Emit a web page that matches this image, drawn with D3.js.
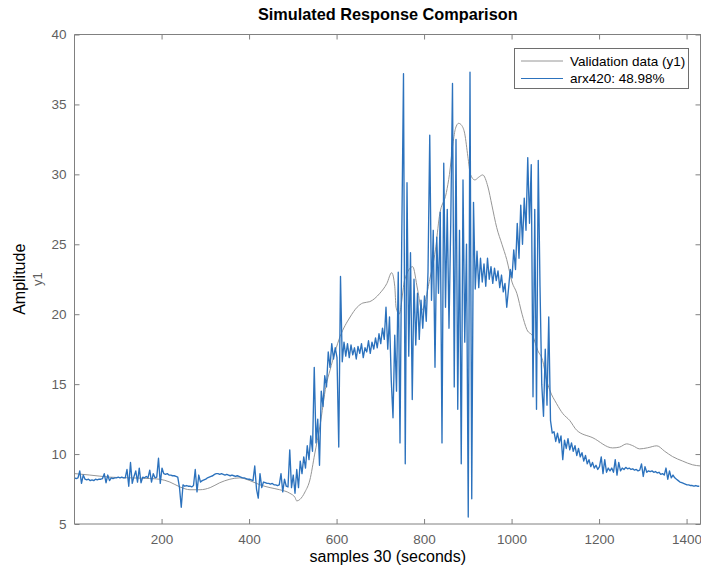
<!DOCTYPE html>
<html>
<head>
<meta charset="utf-8">
<script src="https://cdn.jsdelivr.net/npm/d3@7/dist/d3.min.js"></script>
<style>
  html, body { margin: 0; padding: 0; background: #fff; }
  svg { display: block; font-family: "Liberation Sans", Arial, Helvetica, sans-serif; }
</style>
</head>
<body>
<svg id="chart" width="701" height="570"></svg>
<script>
// ---------------- data ----------------
const titleText = "Simulated Response Comparison";
const xLabel = "samples 30 (seconds)";
const yLabel = "Amplitude";
const yLabelSub = "y1";
const seriesNames = ["Validation data (y1)", "arx420: 48.98%"];
const xTicks = [200, 400, 600, 800, 1000, 1200, 1400];
const yTicks = [5, 10, 15, 20, 25, 30, 35, 40];
const xDomain = [1, 1433];
const yDomain = [5, 40];

// Validation data (smooth grey trace), read at irregular sample positions
const validationSample = [2, 36, 82, 128, 173, 196, 219, 242, 265, 288, 311, 333, 356, 379, 402, 425, 448, 470, 493, 505, 509, 516, 528, 539, 550, 562, 576, 585, 608, 631, 647, 660, 676, 699, 715, 726, 733, 736, 743, 756, 774, 785, 795, 813, 826, 835, 851, 858, 866, 872, 879, 886, 893, 900, 906, 916, 925, 934, 946, 955, 966, 978, 989, 1001, 1012, 1024, 1035, 1049, 1060, 1071, 1080, 1087, 1103, 1117, 1133, 1149, 1186, 1231, 1247, 1263, 1277, 1293, 1311, 1332, 1350, 1368, 1391, 1414, 1432];
const validationValue = [8.6, 8.5, 8.35, 8.3, 8.25, 8.2, 8.0, 7.65, 7.45, 7.45, 7.6, 7.95, 8.2, 8.3, 8.1, 7.8, 7.6, 7.45, 7.2, 6.9, 6.65, 6.75, 7.3, 8.15, 10.0, 12.0, 14.9, 16.0, 18.4, 19.8, 20.5, 20.8, 20.9, 21.5, 22.2, 22.97, 22.0, 20.5, 20.0, 22.5, 23.4, 21.8, 20.3, 22.5, 24.6, 27.0, 28.7, 30.0, 32.2, 33.3, 33.65, 33.5, 32.9, 31.3, 30.0, 29.6, 29.8, 29.96, 29.1, 27.8, 26.2, 25.0, 23.9, 22.3, 21.5, 20.0, 18.9, 18.4, 17.4, 16.7, 15.3, 14.6, 13.6, 12.9, 12.4, 11.7, 11.16, 10.44, 10.5, 10.73, 10.6, 10.37, 10.45, 10.59, 10.2, 9.82, 9.5, 9.23, 9.15];

// Simulated model output (blue trace), one value every 4 samples starting at sample 1
const modelFirstSample = 1;
const modelStep = 4;
const modelValue = [
  8.3, 8.25, 8.3, 8.8, 7.9, 8.5,
  8.2, 8.15, 8.2, 8.1, 8.15, 8.1, 8.2, 8.15, 8.2, 8.2, 8.25,
  8.6, 7.95, 8.5, 8.1,
  8.3, 8.25, 8.3, 8.3, 8.35, 8.3, 8.35, 8.3, 8.3,
  8.9, 7.7, 9.4, 7.9, 8.4,
  8.8, 8.0, 9.0, 7.95,
  8.35, 8.3, 8.4, 8.3,
  8.85, 8.0, 8.6, 8.3, 8.35,
  9.7, 7.9, 9.0,
  8.6, 8.55, 8.6, 8.5, 8.5, 8.45, 8.45, 8.4, 8.35,
  7.6, 6.2,
  7.8, 7.7, 7.75, 7.7, 7.7, 7.65, 7.75,
  8.9, 7.3, 8.5,
  8.0, 8.1, 8.15, 8.2, 8.3, 8.35, 8.4, 8.45,
  8.55, 8.6, 8.6, 8.55, 8.6, 8.55, 8.5, 8.55, 8.5, 8.45, 8.5, 8.45, 8.4, 8.45, 8.4,
  8.35, 8.3, 8.3, 8.25, 8.2, 8.2, 8.15, 8.1,
  9.15, 7.5, 6.85, 8.6, 7.6,
  8.0, 7.95, 7.9, 7.9, 7.85, 7.9, 7.8, 7.8, 7.75, 7.8,
  8.6, 7.3, 8.2,
  7.7, 7.65, 10.3, 7.6,
  8.5, 7.2, 8.9, 7.6, 9.5,
  8.6, 9.8, 9.0, 10.6, 9.6, 11.3, 10.2, 16.2, 10.8, 12.5, 9.2, 14.5, 13.4, 15.6, 14.8, 17.3, 16.2, 17.9, 16.8, 17.6, 16.9, 10.5, 22.7, 16.6, 18.0,
  17.0, 17.9, 16.9, 17.8, 17.1, 17.6, 16.8, 17.7, 17.2, 17.9, 16.9, 17.6, 17.3, 18.1, 17.2, 18.0, 17.5, 18.3, 17.6, 18.6, 17.9, 19.0, 18.2,
  20.5, 17.5, 19.8, 15.3, 12.6, 18.5, 14.5, 23.0, 10.8, 25.5, 37.2, 9.3, 29.4, 17.0, 24.4, 13.9, 22.5, 17.8, 21.5, 18.2, 21.0, 19.0, 21.3, 19.5, 23.0, 32.8, 21.0, 26.0, 16.2, 25.5, 21.5, 27.3, 10.8, 30.8, 20.5, 27.5, 19.0, 26.5, 36.5, 14.8, 32.5, 13.2, 26.0, 9.3, 29.6, 18.0, 25.0, 5.5, 37.3, 6.8, 28.0, 21.8, 24.5, 21.9, 24.0,
  22.3, 23.6, 22.0, 24.0, 22.5, 23.4, 22.2, 23.3, 22.4, 23.1, 21.9, 22.8, 21.6, 22.2, 20.5, 21.8, 23.2, 22.6,
  24.6, 23.2, 26.5, 24.0, 27.8, 25.0, 28.3, 26.0, 31.2, 26.5, 30.7, 14.1, 27.5, 13.2, 31.0, 22.0, 15.0, 12.7, 17.5, 13.5, 19.8, 12.4, 11.5,
  11.6, 10.9, 11.5, 10.8, 11.3,
  9.6, 11.0, 10.4, 11.1, 10.3, 10.8, 10.2, 10.6, 9.9, 10.4, 9.8,
  10.1, 9.5, 9.9, 9.3, 9.6, 9.1, 9.4, 9.0, 9.2, 8.9,
  9.1, 9.8, 8.6, 9.6, 8.7, 9.0, 8.8, 9.0, 8.7, 9.6,
  8.5, 9.4, 8.8, 9.0, 8.9, 9.05, 8.95, 9.0, 8.9, 8.95,
  8.85, 8.9, 8.8, 8.85, 9.3, 8.4, 9.1, 8.7, 8.8, 8.75,
  8.8, 8.7, 8.75, 8.65, 8.7, 8.55, 8.6, 8.5, 9.0, 8.2,
  8.8, 8.3, 8.5, 8.3, 8.2, 8.1, 8.0, 7.95, 7.9, 7.85,
  7.8, 7.8, 7.75, 7.75, 7.7, 7.75, 7.7, 7.7
];

// ---------------- drawing ----------------
const plot = { left: 74.5, right: 701, top: 34.5, bottom: 524 };
const svg = d3.select("#chart");

const x = d3.scaleLinear().domain(xDomain).range([plot.left, plot.right]);
const y = d3.scaleLinear().domain(yDomain).range([plot.bottom, plot.top]);

const axisColor = "#808080";
const tickTextColor = "#5f5f5f";
const greyLine = "#969696";
const blueLine = "#2c72bd";

svg.append("defs").append("clipPath").attr("id", "clip")
  .append("rect")
  .attr("x", plot.left).attr("y", plot.top)
  .attr("width", plot.right - plot.left).attr("height", plot.bottom - plot.top);

const validation = validationSample.map((s, i) => ({ s, v: validationValue[i] }));
const model = modelValue.map((v, i) => ({ s: modelFirstSample + i * modelStep, v }));

const lineSmooth = d3.line().x(d => x(d.s)).y(d => y(d.v)).curve(d3.curveMonotoneX);
const lineRaw = d3.line().x(d => x(d.s)).y(d => y(d.v));

const g = svg.append("g").attr("clip-path", "url(#clip)");
g.append("path").datum(validation)
  .attr("d", lineSmooth).attr("fill", "none")
  .attr("stroke", greyLine).attr("stroke-width", 1);
g.append("path").datum(model)
  .attr("d", lineRaw).attr("fill", "none")
  .attr("stroke", blueLine).attr("stroke-width", 1.35).attr("stroke-linejoin", "round");

// axes (ticks inside, box on)
function styleAxis(sel, hideText) {
  sel.select(".domain").remove();
  sel.selectAll(".tick line").attr("stroke", axisColor);
  sel.selectAll(".tick text")
    .attr("fill", tickTextColor)
    .style("font-size", "13.5px")
    .style("font-family", "'Liberation Sans', Arial, sans-serif");
  if (hideText) sel.selectAll(".tick text").remove();
}

svg.append("g").attr("transform", `translate(0,${plot.bottom})`)
  .call(d3.axisBottom(x).tickValues(xTicks).tickSizeInner(-5).tickSizeOuter(0).tickPadding(10).tickFormat(d3.format("d")))
  .call(s => styleAxis(s, false));
svg.append("g").attr("transform", `translate(0,${plot.top})`)
  .call(d3.axisTop(x).tickValues(xTicks).tickSizeInner(-5).tickSizeOuter(0))
  .call(s => styleAxis(s, true));
svg.append("g").attr("transform", `translate(${plot.left},0)`)
  .call(d3.axisLeft(y).tickValues(yTicks).tickSizeInner(-5).tickSizeOuter(0).tickPadding(8).tickFormat(d3.format("d")))
  .call(s => styleAxis(s, false));
svg.append("g").attr("transform", `translate(${plot.right - 0.5},0)`)
  .call(d3.axisRight(y).tickValues(yTicks).tickSizeInner(-5).tickSizeOuter(0))
  .call(s => styleAxis(s, true));

// box
svg.append("path")
  .attr("d", `M${plot.left},${plot.bottom}H${plot.right}M${plot.left},${plot.top}H${plot.right}M${plot.left},${plot.top}V${plot.bottom}M${plot.right - 0.5},${plot.top}V${plot.bottom}`)
  .attr("stroke", axisColor).attr("stroke-width", 1).attr("fill", "none");

// title and labels
svg.append("text")
  .attr("x", (plot.left + plot.right) / 2).attr("y", 20)
  .attr("text-anchor", "middle")
  .style("font-size", "16.3px").style("font-weight", "bold")
  .attr("fill", "#000").text(titleText);

svg.append("text")
  .attr("x", (plot.left + plot.right) / 2).attr("y", 562)
  .attr("text-anchor", "middle")
  .style("font-size", "16px").attr("fill", "#000").text(xLabel);

const yMid = (plot.top + plot.bottom) / 2;
svg.append("text")
  .attr("transform", `translate(25,${yMid}) rotate(-90)`)
  .attr("text-anchor", "middle")
  .style("font-size", "16px").attr("fill", "#000").text(yLabel);
svg.append("text")
  .attr("transform", `translate(42,${yMid}) rotate(-90)`)
  .attr("text-anchor", "middle")
  .style("font-size", "13px").attr("fill", tickTextColor).text(yLabelSub);

// legend
const leg = svg.append("g");
leg.append("rect")
  .attr("x", 514.5).attr("y", 48.5).attr("width", 174).attr("height", 40)
  .attr("fill", "#fff").attr("stroke", "#6e6e6e").attr("stroke-width", 1);
const legColors = [greyLine, blueLine];
seriesNames.forEach((name, i) => {
  const cy = 61 + i * 17.5;
  leg.append("line")
    .attr("x1", 521).attr("x2", 563).attr("y1", cy).attr("y2", cy)
    .attr("stroke", legColors[i]).attr("stroke-width", 1);
  leg.append("text")
    .attr("x", 570).attr("y", cy).attr("dy", "0.35em")
    .style("font-size", "13.5px").attr("fill", "#000").text(name);
});
</script>
</body>
</html>
